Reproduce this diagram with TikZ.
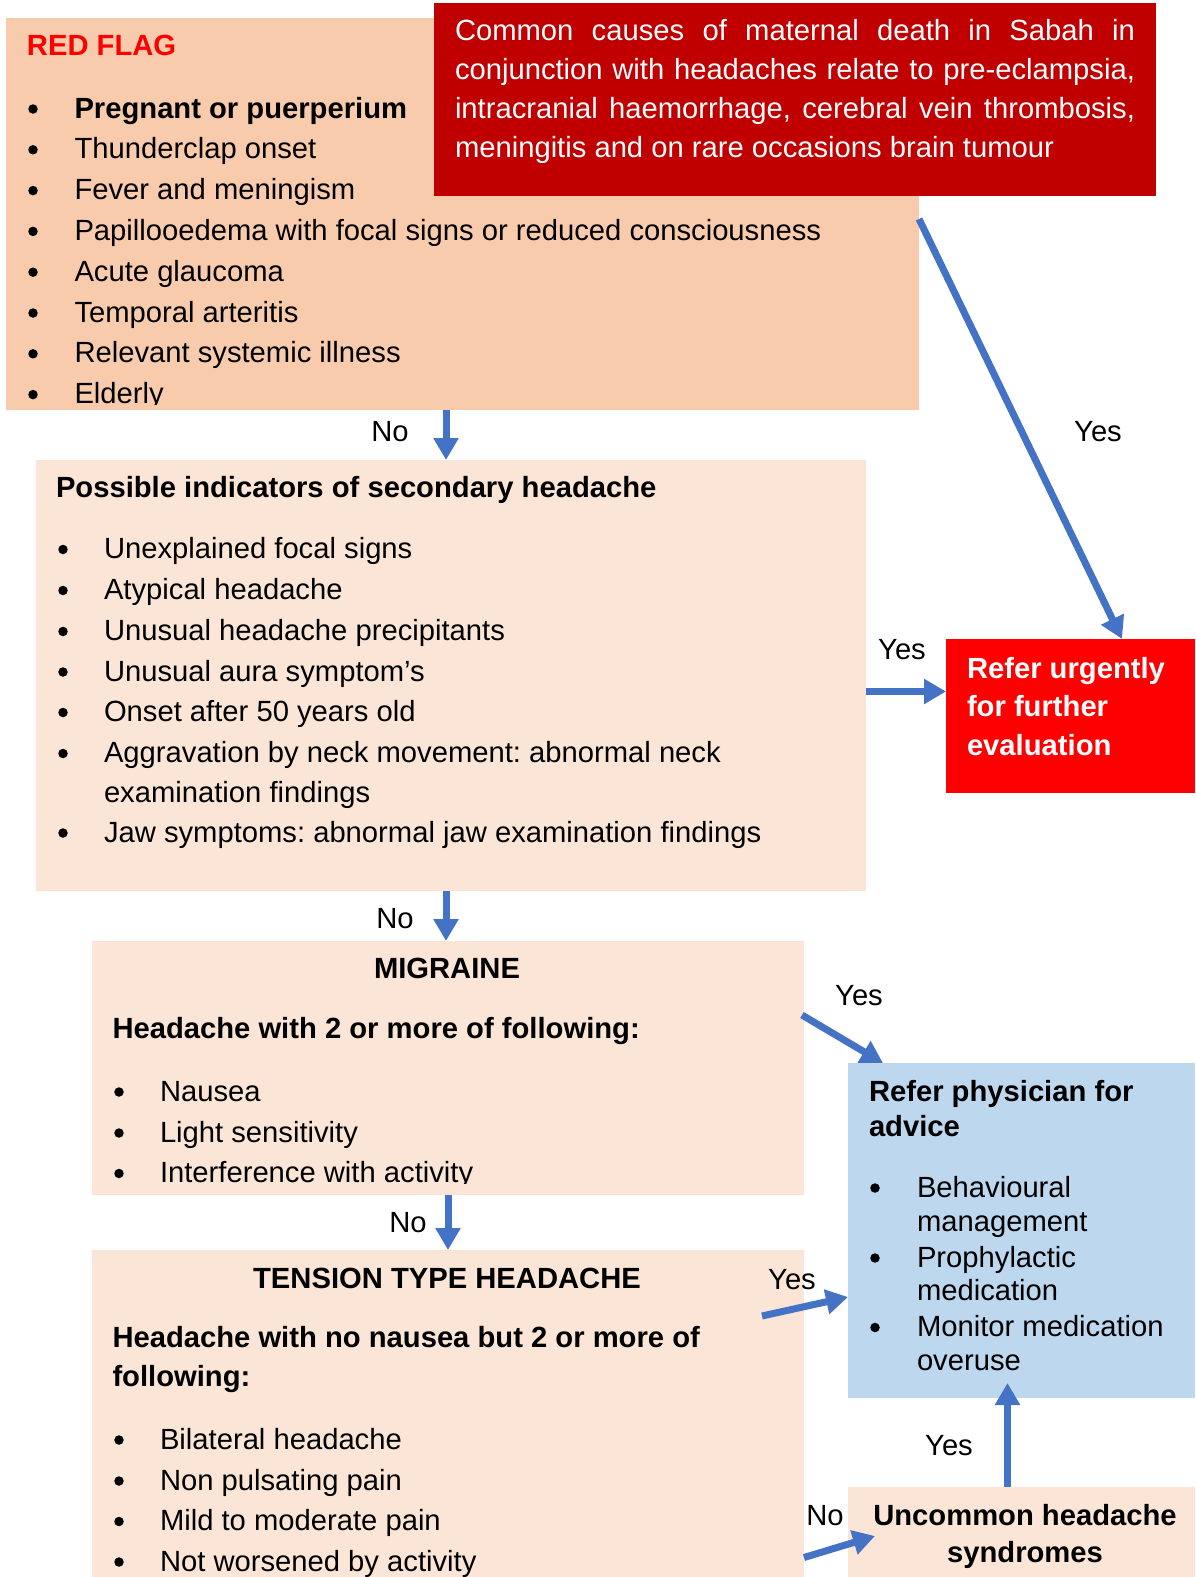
\documentclass[tikz,border=0pt]{standalone}
\usepackage{fontspec}
\setmainfont{Liberation Sans}
\usetikzlibrary{arrows.meta,calc}

\definecolor{peachdeep}{HTML}{F8CBAD}
\definecolor{peachlight}{HTML}{FBE5D6}
\definecolor{causered}{HTML}{C00000}
\definecolor{urgentred}{HTML}{FF0000}
\definecolor{advblue}{HTML}{BDD7EE}
\definecolor{flowblue}{HTML}{4472C4}

\newcommand\txtsize{\fontsize{29.2}{39}\selectfont\frenchspacing}

\tikzset{
  panel/.style={anchor=north west, inner sep=0pt, outer sep=0pt},
  line/.style={anchor=base west, inner sep=0pt, outer sep=0pt, font=\txtsize},
  head/.style={line, font=\txtsize\bfseries},
  mid/.style={anchor=base, inner sep=0pt, outer sep=0pt, font=\txtsize\bfseries},
  dot/.style={circle, fill=black, inner sep=0pt, outer sep=0pt, minimum size=9.5pt},
  tag/.style={anchor=base, inner sep=0pt, outer sep=0pt, font=\txtsize},
  flow/.style={draw=flowblue, line width=7pt, -{Triangle[width=24pt,length=22pt]}},
}

% bullet item: name, bullet x, text x, baseline y, text
\newcommand\bitem[5]{%
  \node[dot] (#1-dot) at (#2,#4-9) {};
  \node[line] (#1) at (#3,#4) {#5};}

\begin{document}
\begin{tikzpicture}[x=1pt,y=-1pt]
\useasboundingbox (0,0) rectangle (1195,1577);
\fill[white] (0,0) rectangle (1195,1577);

% ---------- panels ----------
\node[panel, fill=peachdeep,  minimum width=913pt, minimum height=392pt] (redflag)   at (6,18) {};
\node[panel, fill=causered,   minimum width=722pt, minimum height=193pt] (causes)    at (434,3) {};
\node[panel, fill=peachlight, minimum width=830pt, minimum height=431pt] (secondary) at (36,460) {};
\node[panel, fill=urgentred,  minimum width=249pt, minimum height=154pt] (urgent)    at (946,639) {};
\node[panel, fill=peachlight, minimum width=712pt, minimum height=254pt] (migraine)  at (92,941) {};
\node[panel, fill=advblue,    minimum width=347pt, minimum height=335pt] (physician) at (848,1063) {};
\node[panel, fill=peachlight, minimum width=712pt, minimum height=327pt] (tension)   at (92,1250) {};
\node[panel, fill=peachlight, minimum width=347pt, minimum height=90pt]  (uncommon)  at (848,1487) {};

% ---------- red flag list ----------
\begin{scope}
  \clip (6,18) rectangle (919,404);
  \node[head, text=urgentred] (rf-title) at (27,55) {RED FLAG};
  \bitem{rf1}{33}{74.5}{118}{\bfseries Pregnant or puerperium}
  \bitem{rf2}{33}{74.5}{158.8}{Thunderclap onset}
  \bitem{rf3}{33}{74.5}{199.6}{Fever and meningism}
  \bitem{rf4}{33}{74.5}{240.4}{Papillooedema with focal signs or reduced consciousness}
  \bitem{rf5}{33}{74.5}{281.2}{Acute glaucoma}
  \bitem{rf6}{33}{74.5}{322}{Temporal arteritis}
  \bitem{rf7}{33}{74.5}{362.8}{Relevant systemic illness}
  \bitem{rf8}{33}{74.5}{403.6}{Elderly}
\end{scope}

% ---------- maternal death note ----------
\node[line, text=white] (cs1) at (455,40)  {\makebox[680pt][s]{Common causes of maternal death in Sabah in}};
\node[line, text=white] (cs2) at (455,79)  {\makebox[680pt][s]{conjunction with headaches relate to pre-eclampsia,}};
\node[line, text=white] (cs3) at (455,118) {\makebox[680pt][s]{intracranial haemorrhage, cerebral vein thrombosis,}};
\node[line, text=white] (cs4) at (455,157) {meningitis and on rare occasions brain tumour};

% ---------- secondary headache ----------
\node[head] (sc-title) at (56,497) {Possible indicators of secondary headache};
\bitem{sc1}{63}{104}{558.5}{Unexplained focal signs}
\bitem{sc2}{63}{104}{599.5}{Atypical headache}
\bitem{sc3}{63}{104}{640.5}{Unusual headache precipitants}
\bitem{sc4}{63}{104}{681}{Unusual aura symptom’s}
\bitem{sc5}{63}{104}{721.5}{Onset after 50 years old}
\bitem{sc6}{63}{104}{762.5}{Aggravation by neck movement: abnormal neck}
\node[line] (sc6b) at (104,802) {examination findings};
\bitem{sc7}{63}{104}{842}{Jaw symptoms: abnormal jaw examination findings}

% ---------- urgent referral ----------
\node[head, text=white] (ur1) at (967,678) {Refer urgently};
\node[head, text=white] (ur2) at (967,716) {for further};
\node[head, text=white] (ur3) at (967,755) {evaluation};

% ---------- migraine ----------
\node[mid] (mg-title) at (447,978.5) {MIGRAINE};
\node[head] (mg-sub) at (112.5,1038.5) {Headache with 2 or more of following:};
\begin{scope}
  \clip (92,941) rectangle (804,1183.5);
  \bitem{mg1}{119}{160}{1101}{Nausea}
  \bitem{mg2}{119}{160}{1142}{Light sensitivity}
  \bitem{mg3}{119}{160}{1182.5}{Interference with activity}
\end{scope}

% ---------- physician advice ----------
\node[head] (ph1) at (869,1101) {Refer physician for};
\node[head] (ph2) at (869,1136) {advice};
\bitem{ph3}{875}{917}{1197}{Behavioural}
\node[line] (ph3b) at (917,1231) {management};
\bitem{ph4}{875}{917}{1267}{Prophylactic}
\node[line] (ph4b) at (917,1300.5) {medication};
\bitem{ph5}{875}{917}{1336.5}{Monitor medication}
\node[line] (ph5b) at (917,1370) {overuse};

% ---------- tension type ----------
\node[mid] (tt-title) at (447,1288) {TENSION TYPE HEADACHE};
\node[head] (tt-sub1) at (112.5,1347.5) {Headache with no nausea but 2 or more of};
\node[head] (tt-sub2) at (112.5,1386.5) {following:};
\bitem{tt1}{119}{160}{1449}{Bilateral headache}
\bitem{tt2}{119}{160}{1490}{Non pulsating pain}
\bitem{tt3}{119}{160}{1530.5}{Mild to moderate pain}
\bitem{tt4}{119}{160}{1571}{Not worsened by activity}

% ---------- uncommon syndromes ----------
\node[mid] (un1) at (1025,1525) {Uncommon headache};
\node[mid] (un2) at (1025,1562) {syndromes};

% ---------- connectors ----------
\coordinate (a1) at ($(redflag.south west)+(440,0)$);
\draw[flow] (a1) -- (a1 |- secondary.north);
\coordinate (a2) at ($(redflag.north east)+(0,201)$);
\draw[flow] (a2) -- ($(urgent.north west)+(176,0)$);
\coordinate (a3) at ($(secondary.north east)+(0,231.5)$);
\draw[flow] (a3) -- (a3 -| urgent.west);
\coordinate (a4) at ($(secondary.south west)+(410,0)$);
\draw[flow] (a4) -- (a4 |- migraine.north);
\coordinate (a5) at ($(migraine.north east)+(-2,74)$);
\draw[flow] (a5) -- ($(physician.north west)+(35,0)$);
\coordinate (a6) at ($(migraine.south west)+(356,0)$);
\draw[flow] (a6) -- (a6 |- tension.north);
\coordinate (a7) at ($(tension.north east)+(-42,66)$);
\draw[flow] (a7) -- ($(physician.north west)+(0,234)$);
\coordinate (a8) at ($(uncommon.north west)+(159.5,0)$);
\draw[flow] (a8) -- ($(physician.south west)+(159.5,-15)$);
\coordinate (a9) at ($(tension.north east)+(0,307.5)$);
\draw[flow] (a9) -- ($(uncommon.north west)+(27,49)$);

% ---------- connector labels ----------
\node[tag] (l1) at (390,441)   {No};
\node[tag] (l2) at (1098,441)  {Yes};
\node[tag] (l3) at (902,659)   {Yes};
\node[tag] (l4) at (395,928)   {No};
\node[tag] (l5) at (859,1005)  {Yes};
\node[tag] (l6) at (408,1232)  {No};
\node[tag] (l7) at (792,1289)  {Yes};
\node[tag] (l8) at (949,1455)  {Yes};
\node[tag] (l9) at (825,1525)  {No};
\end{tikzpicture}
\end{document}
